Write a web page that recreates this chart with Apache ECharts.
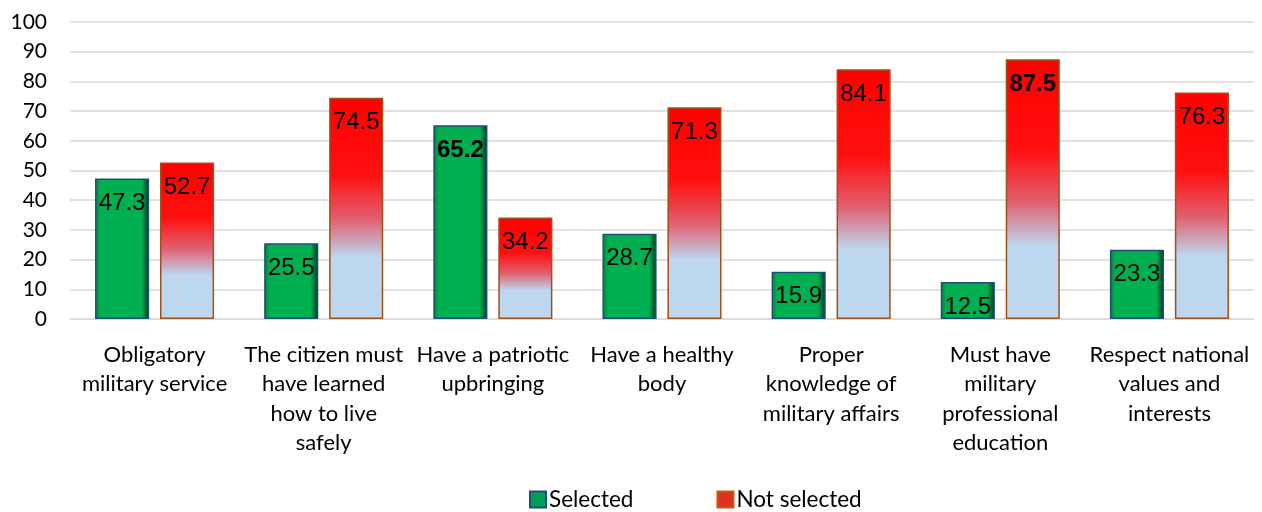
<!DOCTYPE html>
<html><head><meta charset="utf-8">
<script src="https://cdn.jsdelivr.net/npm/echarts@6/dist/echarts.min.js"></script>
<style>html,body{margin:0;padding:0;background:#fff}#c{width:1262px;height:512px}</style>
</head><body><div id="c"></div>
<script>
const categories = ["Obligatory\nmilitary service","The citizen must\nhave learned\nhow to live\nsafely","Have a patriotic\nupbringing","Have a healthy\nbody","Proper\nknowledge of\nmilitary affairs","Must have\nmilitary\nprofessional\neducation","Respect national\nvalues and\ninterests"];
const selected = [47.3, 25.5, 65.2, 28.7, 15.9, 12.5, 23.3];
const notSelected = [52.7, 74.5, 34.2, 71.3, 84.1, 87.5, 76.3];
const boldSelected = [false, false, true, false, false, false, false];
const boldNot = [false, false, false, false, false, true, false];

const greenFill = {type:'linear',x:0,y:0,x2:1,y2:0,colorStops:[
  {offset:0,color:'#0a7a38'},{offset:0.1,color:'#00b050'},{offset:0.86,color:'#00b050'},{offset:1,color:'#00301a'}]};
const redFill = {type:'linear',x:0,y:0,x2:0,y2:1,colorStops:[
  {offset:0,color:'#ff0000'},{offset:0.35,color:'#ff1010'},{offset:0.55,color:'#e06070'},{offset:0.72,color:'#bdd7ee'},{offset:1,color:'#bdd7ee'}]};

function mk(vals, bolds){
  return vals.map((v,i)=>({value:v,label:{fontWeight:bolds[i]?'bold':'normal'}}));
}

const chart = echarts.init(document.getElementById('c'));
chart.setOption({
  animation:false,
  grid:{left:70,right:8,top:22,bottom:193},
  legend:{top:488,left:529,padding:0,itemWidth:16,itemHeight:16,itemGap:83,icon:'rect',
    textStyle:{fontFamily:'Lato, sans-serif',fontSize:22.5,lineHeight:22,color:'#000',padding:[0,0,0,-2]},
    data:[{name:'Selected',itemStyle:{color:'#00a050',borderColor:'#1f4e79',borderWidth:2}},
          {name:'Not selected',itemStyle:{color:'#e03020',borderColor:'#c55a11',borderWidth:2}}]},
  xAxis:{type:'category',data:categories,
    axisLine:{show:true,lineStyle:{color:'#d9d9d9'}},axisTick:{show:false},
    axisLabel:{interval:0,margin:21,fontFamily:'Lato, sans-serif',fontSize:22,lineHeight:29.5,color:'#000'}},
  yAxis:{type:'value',min:0,max:100,interval:10,
    axisLine:{show:false},axisTick:{show:false},
    splitLine:{lineStyle:{color:'#d9d9d9',width:1.5}},
    axisLabel:{margin:23,fontFamily:'Lato, sans-serif',fontSize:21,color:'#000'}},
  series:[
    {name:'Selected',type:'bar',barWidth:'32%',barGap:'20%',data:mk(selected,boldSelected),
     itemStyle:{color:greenFill,borderColor:'#1f4e79',borderWidth:1.5},
     label:{show:true,position:'insideTop',distance:13,fontFamily:'Liberation Sans, Arial, sans-serif',fontSize:24,color:'#000'}},
    {name:'Not selected',type:'bar',barWidth:'32%',data:mk(notSelected,boldNot),
     itemStyle:{color:redFill,borderColor:'#a0501a',borderWidth:1.5},
     label:{show:true,position:'insideTop',distance:13,fontFamily:'Liberation Sans, Arial, sans-serif',fontSize:24,color:'#000'}}
  ]
});
</script></body></html>
